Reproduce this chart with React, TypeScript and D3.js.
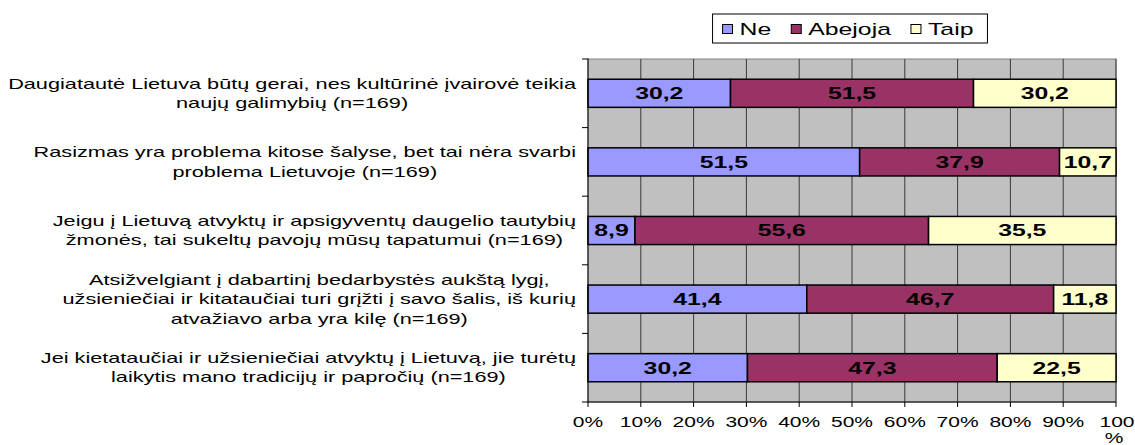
import { useEffect, useRef } from "react";
import * as d3 from "d3";

// category labels, already wrapped the way the chart shows them
const categories: string[][] = [
  ["Daugiatautė Lietuva būtų gerai, nes kultūrinė įvairovė teikia", "naujų galimybių (n=169)"],
  ["Rasizmas yra problema kitose šalyse, bet tai nėra svarbi", "problema Lietuvoje (n=169)"],
  ["Jeigu į Lietuvą atvyktų ir apsigyventų daugelio tautybių", "žmonės, tai sukeltų pavojų mūsų tapatumui (n=169)"],
  [
    "Atsižvelgiant į dabartinį bedarbystės aukštą lygį,",
    "užsieniečiai ir kitataučiai turi grįžti į savo šalis, iš kurių",
    "atvažiavo arba yra kilę (n=169)",
  ],
  ["Jei kietataučiai ir užsieniečiai atvyktų į Lietuvą, jie turėtų", "laikytis mano tradicijų ir papročių (n=169)"],
];
const seriesNames = ["Ne", "Abejoja", "Taip"];
const ne = [30.2, 51.5, 8.9, 41.4, 30.2];
const abejoja = [51.5, 37.9, 55.6, 46.7, 47.3];
const taip = [30.2, 10.7, 35.5, 11.8, 22.5];
const colors = ["#9999FF", "#993366", "#FFFFCC"];
const tickValues = [0, 0.1, 0.2, 0.3, 0.4, 0.5, 0.6, 0.7, 0.8, 0.9, 1];
const tickLabels = ["0%", "10%", "20%", "30%", "40%", "50%", "60%", "70%", "80%", "90%", "100%"];

const FONT = "'Liberation Sans', Arial, sans-serif";
// the original is rendered horizontally stretched
const CAT_SX = 1.55;
const VAL_SX = 1.55;
const TICK_SX = 1.5;
const LEG_SX = 1.55;

const App = () => {
  const svgRef = useRef<SVGSVGElement | null>(null);

  useEffect(() => {
    document.body.style.margin = "0";
    if (!svgRef.current) return;
    const svg = d3.select(svgRef.current);
    svg.selectAll("*").remove();

    const width = 1135;
    const height = 445;
    const margin = { top: 59, right: 19, bottom: 43, left: 588 };

    const rows = categories.map((c, i) => ({
      key: String(i),
      lines: c,
      Ne: ne[i],
      Abejoja: abejoja[i],
      Taip: taip[i],
    }));

    const stack = d3.stack<any>().keys(seriesNames).offset(d3.stackOffsetExpand);
    const stacked = stack(rows);

    const x = d3.scaleLinear().domain([0, 1]).range([margin.left, width - margin.right]);
    const y = d3
      .scaleBand()
      .domain(rows.map((r) => r.key))
      .range([margin.top, height - margin.bottom])
      .paddingInner(0.59)
      .paddingOuter(0.295);

    const fmt = (v: number) => d3.format(".1f")(v).replace(".", ",");

    // stretched text helper
    const stretchText = (
      parent: d3.Selection<any, any, any, any>,
      tx: number,
      ty: number,
      str: string,
      size: number,
      anchor: string,
      weight: string,
      sx: number
    ) => {
      const g = parent.append("g").attr("transform", `translate(${tx},${ty}) scale(${sx},1)`);
      return g
        .append("text")
        .attr("text-anchor", anchor)
        .attr("font-family", FONT)
        .attr("font-size", size)
        .attr("font-weight", weight)
        .attr("fill", "#000")
        .text(str);
    };

    // plot background
    svg
      .append("rect")
      .attr("x", x(0))
      .attr("y", margin.top)
      .attr("width", x(1) - x(0))
      .attr("height", height - margin.bottom - margin.top)
      .attr("fill", "#C0C0C0")
      .attr("stroke", "#808080")
      .attr("stroke-width", 1);

    // vertical gridlines
    svg
      .append("g")
      .selectAll("line")
      .data(tickValues.slice(1))
      .enter()
      .append("line")
      .attr("x1", (d) => x(d))
      .attr("x2", (d) => x(d))
      .attr("y1", margin.top)
      .attr("y2", height - margin.bottom)
      .attr("stroke", "#3a3a3a")
      .attr("stroke-width", 1);

    // bars
    stacked.forEach((layer, si) => {
      svg
        .append("g")
        .selectAll("rect")
        .data(layer)
        .enter()
        .append("rect")
        .attr("x", (d) => x(d[0]))
        .attr("y", (d) => y(d.data.key) ?? 0)
        .attr("width", (d) => x(d[1]) - x(d[0]))
        .attr("height", y.bandwidth())
        .attr("fill", colors[si])
        .attr("stroke", "#000")
        .attr("stroke-width", 1.5);
    });

    // value labels
    const valGroup = svg.append("g");
    stacked.forEach((layer) => {
      layer.forEach((d) => {
        const cx = (x(d[0]) + x(d[1])) / 2;
        const cy = (y(d.data.key) ?? 0) + y.bandwidth() / 2 + 5.8;
        stretchText(valGroup, cx, cy, fmt(d.data[layer.key]), 16, "middle", "bold", VAL_SX);
      });
    });

    // left axis line and ticks at band boundaries
    const axisG = svg.append("g").attr("stroke", "#000").attr("stroke-width", 1);
    axisG
      .append("line")
      .attr("x1", x(0))
      .attr("x2", x(0))
      .attr("y1", margin.top - 0.5)
      .attr("y2", height - margin.bottom);
    const step = y.step();
    const boundaries = d3.range(rows.length + 1).map((i) => margin.top + i * step);
    axisG
      .selectAll("line.yt")
      .data(boundaries)
      .enter()
      .append("line")
      .attr("class", "yt")
      .attr("x1", x(0) - 6)
      .attr("x2", x(0))
      .attr("y1", (d) => d)
      .attr("y2", (d) => d);

    // bottom axis
    axisG
      .append("line")
      .attr("x1", x(0) - 0.5)
      .attr("x2", x(1))
      .attr("y1", height - margin.bottom)
      .attr("y2", height - margin.bottom);
    axisG
      .selectAll("line.xt")
      .data(tickValues)
      .enter()
      .append("line")
      .attr("class", "xt")
      .attr("x1", (d) => x(d))
      .attr("x2", (d) => x(d))
      .attr("y1", height - margin.bottom)
      .attr("y2", height - margin.bottom + 5);

    const tickG = svg.append("g");
    tickValues.forEach((v, i) => {
      const label = tickLabels[i];
      if (label.length > 3) {
        // Excel wrapped "100%" onto two lines
        stretchText(tickG, x(v) + 1, 427, label.slice(0, -1), 14, "middle", "normal", TICK_SX);
        stretchText(tickG, x(v) - 2, 443, label.slice(-1), 14, "middle", "normal", TICK_SX);
      } else {
        stretchText(tickG, x(v), 427, label, 14, "middle", "normal", TICK_SX);
      }
    });

    // category labels: lines centered on each other, block right-aligned to axis
    const catG = svg.append("g");
    const lineH = 19.5;
    rows.forEach((r) => {
      const cy = (y(r.key) ?? 0) + y.bandwidth() / 2;
      const lineY = (li: number) => cy + (li - (r.lines.length - 1) / 2) * lineH + 5;
      const texts = r.lines.map((ln, li) => stretchText(catG, 0, lineY(li), ln, 14, "middle", "normal", CAT_SX));
      const maxW = d3.max(texts, (t) => (t.node() as SVGTextElement).getComputedTextLength() * CAT_SX) ?? 0;
      const cx = 576 - maxW / 2;
      texts.forEach((t, li) => {
        d3.select((t.node() as SVGTextElement).parentNode as SVGGElement).attr(
          "transform",
          `translate(${cx},${lineY(li)}) scale(${CAT_SX},1)`
        );
      });
    });

    // legend
    const leg = svg.append("g");
    const legBox = leg
      .append("rect")
      .attr("y", 14)
      .attr("height", 29)
      .attr("fill", "#fff")
      .attr("stroke", "#000")
      .attr("stroke-width", 1);
    const swW = 10;
    const swGap = 7;
    const itemGap = 20;
    let cursor = 0;
    const items: { sw: any; tx: any; start: number }[] = [];
    seriesNames.forEach((name, i) => {
      const sw = leg
        .append("rect")
        .attr("width", swW)
        .attr("height", 9)
        .attr("y", 24.5)
        .attr("fill", colors[i])
        .attr("stroke", "#000")
        .attr("stroke-width", 1);
      const tx = stretchText(leg, 0, 34.5, name, 16, "start", "normal", LEG_SX);
      const w = (tx.node() as SVGTextElement).getComputedTextLength() * LEG_SX;
      items.push({ sw, tx, start: cursor });
      cursor += swW + swGap + w + itemGap;
    });
    const total = cursor - itemGap;
    const boxW = total + 24;
    const left = 850 - boxW / 2;
    legBox.attr("x", left).attr("width", boxW);
    items.forEach((it) => {
      const sx0 = left + 10 + it.start;
      it.sw.attr("x", sx0);
      d3.select((it.tx.node() as SVGTextElement).parentNode as SVGGElement).attr(
        "transform",
        `translate(${sx0 + swW + swGap},34.5) scale(${LEG_SX},1)`
      );
    });
  }, []);

  return <svg ref={svgRef} width={1135} height={445} style={{ display: "block" }}></svg>;
};

export default App;
